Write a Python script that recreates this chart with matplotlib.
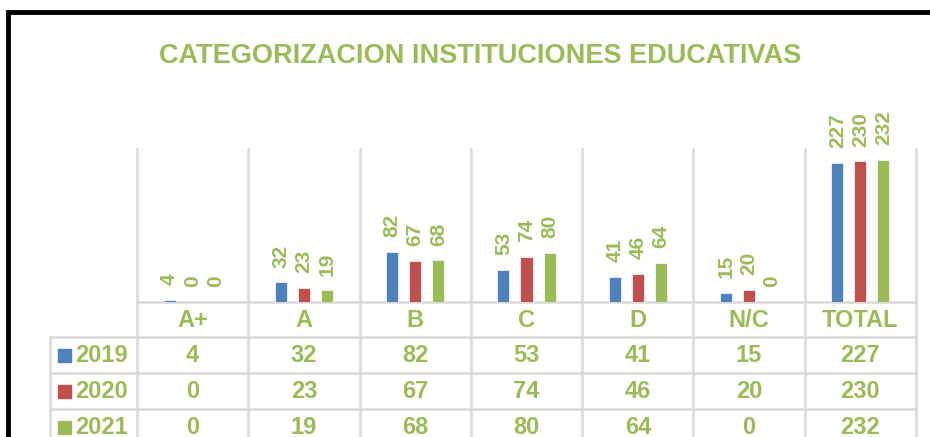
import matplotlib
matplotlib.use("Agg")
import matplotlib.pyplot as plt
import numpy as np

categories = ["A+", "A", "B", "C", "D", "N/C", "TOTAL"]
years = ["2019", "2020", "2021"]
v2019 = [4, 32, 82, 53, 41, 15, 227]
v2020 = [0, 23, 67, 74, 46, 20, 230]
v2021 = [0, 19, 68, 80, 64, 0, 232]
title = "CATEGORIZACION INSTITUCIONES EDUCATIVAS"

BLUE, RED, GREEN = "#4F81BD", "#C0504D", "#9BBB59"
GRID = "#D9D9D9"
W, H = 930, 437
plt.rcParams["font.family"] = ["Liberation Sans", "DejaVu Sans"]

fig = plt.figure(figsize=(W / 100, H / 100), dpi=100)

# layout in pixels
PL, PR, PT, PB = 137, 916, 149, 302
ROWS = [302, 337, 373, 409, 445]
LEFT_COL = 50

ax = fig.add_axes([PL / W, 1 - PB / H, (PR - PL) / W, (PB - PT) / H])
x = np.arange(len(categories))
off, bw = 0.207, 0.108
series = [v2019, v2020, v2021]
colors = [BLUE, RED, GREEN]
for i, (vals, c) in enumerate(zip(series, colors)):
    xs = x + (i - 1) * off
    ax.bar(xs, vals, bw, color=c, edgecolor="white", linewidth=0.5, zorder=3)
    for xi, v in zip(xs, vals):
        ax.annotate(str(v), (xi, v), xytext=(0, 10.5), textcoords="offset points",
                    rotation=90, ha="center", va="bottom", color=GREEN,
                    fontsize=15, fontweight="bold", annotation_clip=False)
ax.set_xlim(-0.5, len(categories) - 0.5)
ax.set_ylim(0, 250)
ax.axis("off")

# overlay in pixel coordinates for table, grid and frame
ov = fig.add_axes([0, 0, 1, 1], zorder=-1)
ov.set_xlim(0, W)
ov.set_ylim(H, 0)
ov.axis("off")
ov.patch.set_alpha(0)

cw = (PR - PL) / len(categories)
bounds = [PL + k * cw for k in range(len(categories) + 1)]
for bx in bounds:
    ov.plot([bx, bx], [PT, H], color=GRID, lw=1.8)
ov.plot([PL, PR], [ROWS[0], ROWS[0]], color=GRID, lw=1.8)
for ry in ROWS[1:4]:
    ov.plot([LEFT_COL, PR], [ry, ry], color=GRID, lw=1.8)
ov.plot([LEFT_COL, LEFT_COL], [ROWS[1], H], color=GRID, lw=1.8)

txt = dict(color=GREEN, fontsize=17, fontweight="bold", ha="center", va="center")
for k, cat in enumerate(categories):
    cx = PL + (k + 0.5) * cw
    ov.text(cx, (ROWS[0] + ROWS[1]) / 2 + 1, cat, **txt)
    for r, vals in enumerate(series):
        ov.text(cx, (ROWS[r + 1] + ROWS[r + 2]) / 2 + 1, str(vals[k]), **txt)

for r, (yr, c) in enumerate(zip(years, colors)):
    cy = (ROWS[r + 1] + ROWS[r + 2]) / 2
    ov.add_patch(plt.Rectangle((58, cy - 6.5), 13, 13, color=c))
    ov.text(75, cy + 1, yr, color=GREEN, fontsize=17, fontweight="bold",
            ha="left", va="center")

ov.text(480, 56, title, color=GREEN, fontsize=19.5, fontweight="bold",
        ha="center", va="center")

# black frame (left and top)
ov.plot([8, 8], [10, H], color="black", lw=3.5, solid_capstyle="butt")
ov.plot([6, W], [12, 12], color="black", lw=3.5, solid_capstyle="butt")

fig.savefig("out.png", dpi=100, facecolor="white")
